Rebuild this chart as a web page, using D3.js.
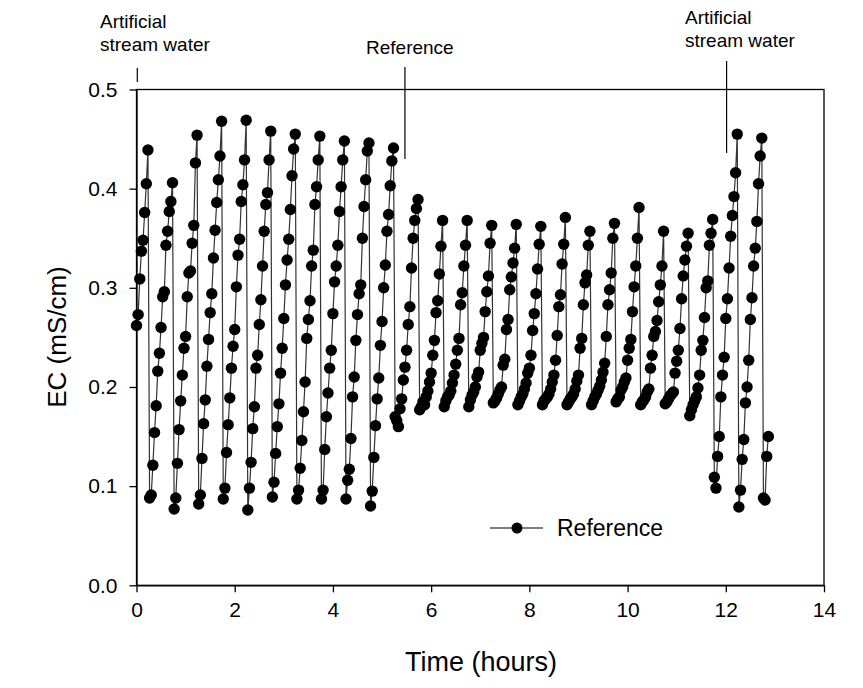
<!DOCTYPE html>
<html>
    <head>
        <title>EC time series</title>
        <style>
            body {margin:0; background:#fff;}
            text {font-family:"Liberation Sans", Arial, sans-serif; fill:#000;}
            .trace {fill:none; stroke:#333; stroke-width:1.2px;}
        </style>
        <script src="https://d3js.org/d3.v7.min.js"></script>
    </head>
    <body>
        <svg id="chart" width="863" height="688"></svg>
        <script>
            // EC readings (mS/cm), one every 2 minutes from t = 0, one line per flushing cycle
            var sampleMinutes = 2;
            var ec = [
                0.262, 0.273, 0.309, 0.337, 0.348, 0.376, 0.405, 0.439,
                0.088, 0.091, 0.121, 0.154, 0.181, 0.216, 0.234, 0.260, 0.291, 0.296, 0.343, 0.357, 0.377, 0.387, 0.406,
                0.077, 0.088, 0.123, 0.157, 0.186, 0.212, 0.239, 0.251, 0.291, 0.315, 0.317, 0.345, 0.363, 0.426, 0.454,
                0.082, 0.091, 0.128, 0.163, 0.187, 0.221, 0.248, 0.275, 0.294, 0.330, 0.358, 0.386, 0.409, 0.433, 0.468,
                0.087, 0.098, 0.134, 0.162, 0.189, 0.219, 0.241, 0.258, 0.301, 0.333, 0.349, 0.387, 0.404, 0.429, 0.469,
                0.076, 0.098, 0.124, 0.158, 0.180, 0.219, 0.232, 0.263, 0.288, 0.322, 0.357, 0.384, 0.396, 0.429, 0.458,
                0.089, 0.104, 0.133, 0.160, 0.183, 0.214, 0.239, 0.269, 0.303, 0.328, 0.349, 0.379, 0.413, 0.440, 0.455,
                0.087, 0.096, 0.118, 0.146, 0.175, 0.205, 0.249, 0.268, 0.287, 0.322, 0.338, 0.384, 0.402, 0.429, 0.453,
                0.087, 0.096, 0.137, 0.170, 0.194, 0.219, 0.237, 0.274, 0.306, 0.322, 0.343, 0.377, 0.402, 0.429, 0.448,
                0.087, 0.106, 0.117, 0.148, 0.190, 0.210, 0.247, 0.273, 0.294, 0.303, 0.350, 0.382, 0.409, 0.438, 0.446,
                0.080, 0.095, 0.129, 0.161, 0.188, 0.209, 0.242, 0.266, 0.300, 0.323, 0.357, 0.374, 0.403, 0.428, 0.441,
                // reference solution
                0.170, 0.166, 0.160, 0.178, 0.188, 0.207, 0.220, 0.237, 0.263, 0.281, 0.320, 0.350, 0.368, 0.380, 0.389,
                0.177, 0.180, 0.185, 0.182, 0.190, 0.196, 0.205, 0.214, 0.232, 0.247, 0.275, 0.287, 0.314, 0.342, 0.368,
                0.180, 0.186, 0.190, 0.192, 0.196, 0.204, 0.212, 0.223, 0.237, 0.249, 0.283, 0.295, 0.322, 0.343, 0.368,
                0.180, 0.187, 0.192, 0.195, 0.200, 0.210, 0.215, 0.237, 0.244, 0.250, 0.276, 0.296, 0.312, 0.345, 0.363,
                0.184, 0.186, 0.189, 0.193, 0.197, 0.200, 0.222, 0.228, 0.258, 0.268, 0.298, 0.311, 0.325, 0.340, 0.364,
                0.182, 0.186, 0.190, 0.193, 0.198, 0.204, 0.214, 0.219, 0.232, 0.257, 0.274, 0.294, 0.319, 0.344, 0.362,
                0.182, 0.186, 0.188, 0.190, 0.193, 0.198, 0.205, 0.212, 0.227, 0.252, 0.281, 0.293, 0.324, 0.344, 0.371,
                0.182, 0.185, 0.188, 0.190, 0.193, 0.198, 0.206, 0.212, 0.239, 0.249, 0.283, 0.305, 0.313, 0.343, 0.357,
                0.182, 0.186, 0.190, 0.193, 0.197, 0.201, 0.207, 0.215, 0.224, 0.251, 0.283, 0.298, 0.315, 0.350, 0.365,
                0.185, 0.188, 0.190, 0.197, 0.200, 0.205, 0.209, 0.227, 0.239, 0.248, 0.276, 0.301, 0.322, 0.350, 0.381,
                0.182, 0.185, 0.187, 0.190, 0.195, 0.198, 0.219, 0.232, 0.251, 0.256, 0.267, 0.286, 0.303, 0.322, 0.357,
                0.183, 0.185, 0.188, 0.191, 0.193, 0.195, 0.214, 0.226, 0.237, 0.259, 0.289, 0.312, 0.328, 0.342, 0.355,
                0.171, 0.177, 0.182, 0.186, 0.190, 0.199, 0.212, 0.237, 0.247, 0.270, 0.300, 0.307, 0.343, 0.355, 0.369,
                // artificial stream water again
                0.109, 0.098, 0.130, 0.150, 0.190, 0.212, 0.230, 0.269, 0.289, 0.320, 0.352, 0.373, 0.392, 0.416, 0.455,
                0.079, 0.096, 0.127, 0.147, 0.184, 0.200, 0.227, 0.268, 0.290, 0.322, 0.340, 0.367, 0.405, 0.433, 0.451,
                0.088, 0.086, 0.130, 0.150
            ];

            var xTicks = [0, 2, 4, 6, 8, 10, 12, 14];
            var yTicks = [0.0, 0.1, 0.2, 0.3, 0.4, 0.5];

            // solution switches (hours) and their labels
            var switchTimes = [0, 5.45, 12.0];
            var switchLabels = [["Artificial", "stream water"], ["Reference"], ["Artificial", "stream water"]];

            var svg = d3.select("#chart");

            var x = d3.scaleLinear().domain([0, 14]).range([136.5, 824]);
            var y = d3.scaleLinear().domain([0, 0.5]).range([585.3, 89.5]);

            var pts = ec.map(function (v, i) { return {t: i * sampleMinutes / 60, v: v}; });

            // frame
            svg.append("rect")
                .attr("x", x(0)).attr("y", y(0.5))
                .attr("width", x(14) - x(0)).attr("height", y(0) - y(0.5))
                .attr("fill", "none").attr("stroke", "#000").attr("stroke-width", 1.3);

            var xAxis = svg.append("g")
                .attr("transform", "translate(0," + y(0) + ")")
                .call(d3.axisBottom(x).tickValues(xTicks).tickSize(7).tickSizeOuter(0).tickPadding(10).tickFormat(d3.format("d")));
            var yAxis = svg.append("g")
                .attr("transform", "translate(" + x(0) + ",0)")
                .call(d3.axisLeft(y).tickValues(yTicks).tickSize(7).tickSizeOuter(0).tickPadding(12).tickFormat(d3.format(".1f")));
            [xAxis, yAxis].forEach(function (g) {
                g.select(".domain").attr("stroke-width", 1.3);
                g.selectAll(".tick line").attr("stroke-width", 1.3);
                g.selectAll(".tick text").attr("font-size", 21).attr("font-family", "Liberation Sans, Arial, sans-serif");
            });

            // annotation lines and labels
            var annTop = [68, 67, 61];
            var annBottom = [82, 159, 153];
            var annTextX = [100, 366, 685];
            var annTextY = [28, 54, 24];
            switchTimes.forEach(function (t, i) {
                svg.append("line")
                    .attr("x1", x(t) + 0.8).attr("x2", x(t) + 0.8)
                    .attr("y1", annTop[i]).attr("y2", annBottom[i])
                    .attr("stroke", "#000").attr("stroke-width", 1.2);
                var txt = svg.append("text").attr("x", annTextX[i]).attr("y", annTextY[i]).attr("font-size", 19);
                switchLabels[i].forEach(function (s, j) {
                    txt.append("tspan").attr("x", annTextX[i]).attr("dy", j ? 23 : 0).text(s);
                });
            });

            // series
            svg.append("path")
                .datum(pts)
                .attr("class", "trace")
                .attr("d", d3.line().x(function (d) { return x(d.t); }).y(function (d) { return y(d.v); }));

            svg.append("g").selectAll("circle")
                .data(pts)
                .join("circle")
                .attr("cx", function (d) { return x(d.t); })
                .attr("cy", function (d) { return y(d.v); })
                .attr("r", 5.7)
                .attr("fill", "#000");

            // legend
            svg.append("line").attr("x1", 490).attr("x2", 543).attr("y1", 528).attr("y2", 528)
                .attr("stroke", "#000").attr("stroke-width", 1.2);
            svg.append("circle").attr("cx", 517).attr("cy", 528).attr("r", 5.5).attr("fill", "#000");
            svg.append("text").attr("x", 557).attr("y", 536).attr("font-size", 23).text("Reference");

            // axis titles
            svg.append("text")
                .attr("transform", "translate(66,337) rotate(-90)")
                .attr("text-anchor", "middle")
                .attr("font-size", 26)
                .text("EC (mS/cm)");
            svg.append("text")
                .attr("x", 481).attr("y", 671)
                .attr("text-anchor", "middle")
                .attr("font-size", 27)
                .text("Time (hours)");
        </script>
    </body>
</html>
